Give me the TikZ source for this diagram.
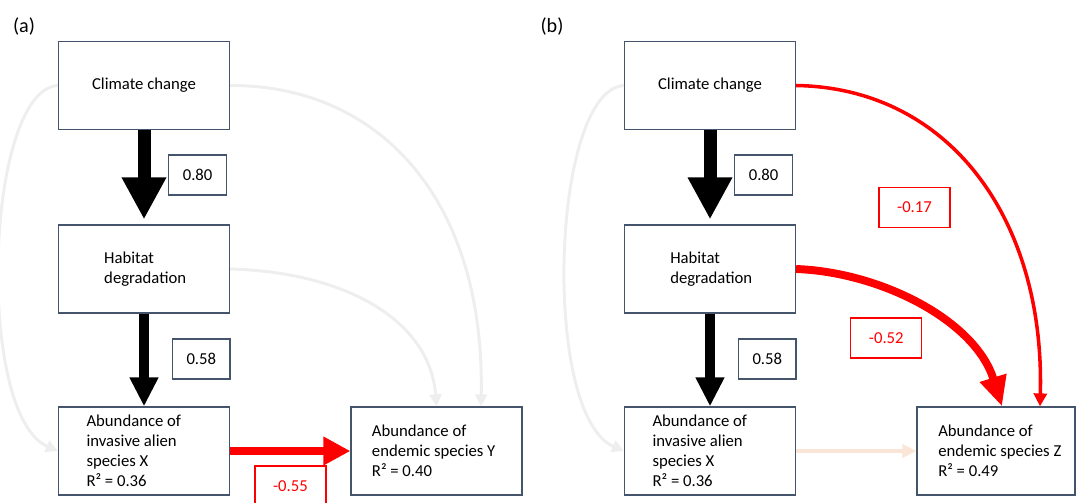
\documentclass[tikz,border=0pt]{standalone}
\usepackage{fontspec}
\setmainfont{Carlito}
\usepackage{tikz}
\usetikzlibrary{arrows.meta, positioning, calc}
\definecolor{boxline}   {RGB}{68,  84, 106}
\definecolor{pathred}   {RGB}{255,  0,   0}
\definecolor{fadegrey}  {RGB}{238, 238, 238}
\definecolor{fadepeach} {RGB}{251, 229, 214}

\begin{document}
\begin{tikzpicture}[x=0.02cm, y=-0.02cm,
	every node/.style={font=\fontsize{9.5}{11.4}\selectfont},
	box/.style={draw=boxline, line width=0.7pt, minimum height=1.76cm, minimum width=3.42cm, inner sep=0pt},
	boxtext/.style={inner sep=0pt, align=left},
	coef/.style={draw=boxline, line width=0.7pt, minimum width=1.15cm, minimum height=0.8cm, inner sep=0pt},
	coefneg/.style={coef, draw=pathred, text=pathred, minimum width=1.42cm},
	bigpath/.style={line width=7.4pt, -{Triangle[width=0.834cm, length=0.84cm]}},
	midpath/.style={line width=5.3pt, -{Triangle[width=0.54cm, length=0.58cm]}},
	weakpath/.style={fadegrey, line width=1.7pt, -{Triangle[width=0.24cm, length=0.24cm]}},
	panel/.style={font=\fontsize{11.5}{13}\selectfont, inner sep=0pt}
]
	\useasboundingbox (0,0) rectangle (1077,503);
	\foreach \p/\dx/\lx in {a/0/24, b/566/552}{
		\node[panel] (lab\p) at (\lx,27) {(\p)};
		\node[box] (cc\p) at ({144+\dx},85.5) {Climate change};
		\node[box] (hd\p) at ({144+\dx},269) {};
		\node[boxtext, right=0.92cm of hd\p.west] (hdtxt\p) {Habitat\\degradation};
		\node[box] (xs\p) at ({144+\dx},451) {};
		\node[boxtext, right=0.566cm of xs\p.west] (xstxt\p) {Abundance of\\invasive alien\\species X\\R² = 0.36};
		\node[coef] (cA\p) at ({197.6+\dx},175) {0.80};
		\node[coef] (cB\p) at ({201.3+\dx},359) {0.58};
		\draw[bigpath, shorten >=0.1cm] (cc\p) -- (hd\p);
		\draw[midpath] (hd\p) -- (xs\p);
		\draw[weakpath] (cc\p.west) .. controls ({-15+\dx},90) and ({-25+\dx},415) .. (xs\p.west);
	}
	% (a)
	\node[box] (spy) at (436.5,451) {};
	\node[boxtext, right=0.424cm of spy.west] (spytxt) {Abundance of\\endemic species Y\\R² = 0.40};
	\draw[weakpath] (cca.east) .. controls (380,85) and (485,200) .. ([xshift=0.89cm]spy.north);
	\draw[weakpath] (hda.east) .. controls (345,272) and (430,320) .. (spy.north);
	\draw[pathred, line width=4.8pt, -{Triangle[width=0.54cm, length=0.54cm]}] (xsa) -- (spy);
	\node[coefneg] (cCa) at (290.4,486) {-0.55};
	% (b)
	\node[box, minimum width=3.16cm] (spz) at (996,451) {};
	\node[boxtext, right=0.43cm of spz.west] (spztxt) {Abundance of\\endemic species Z\\R² = 0.49};
	\draw[fadepeach, line width=2.8pt, -{Triangle[width=0.26cm, length=0.28cm]}] (xsb) -- (spz);
	\draw[pathred, line width=2pt, -{Triangle[width=0.26cm, length=0.26cm]}] (ccb.east) .. controls (950,88) and (1045,220) .. ([xshift=0.88cm]spz.north);
	\draw[pathred, line width=4.5pt, -{Triangle[width=0.52cm, length=0.6cm]}] (hdb.east) .. controls (880,272) and (975,320) .. ([xshift=0.12cm]spz.north);
	\node[coefneg] (cCb) at (914.5,207.5) {-0.17};
	\node[coefneg] (cDb) at (886.3,338) {-0.52};
\end{tikzpicture}
\end{document}
